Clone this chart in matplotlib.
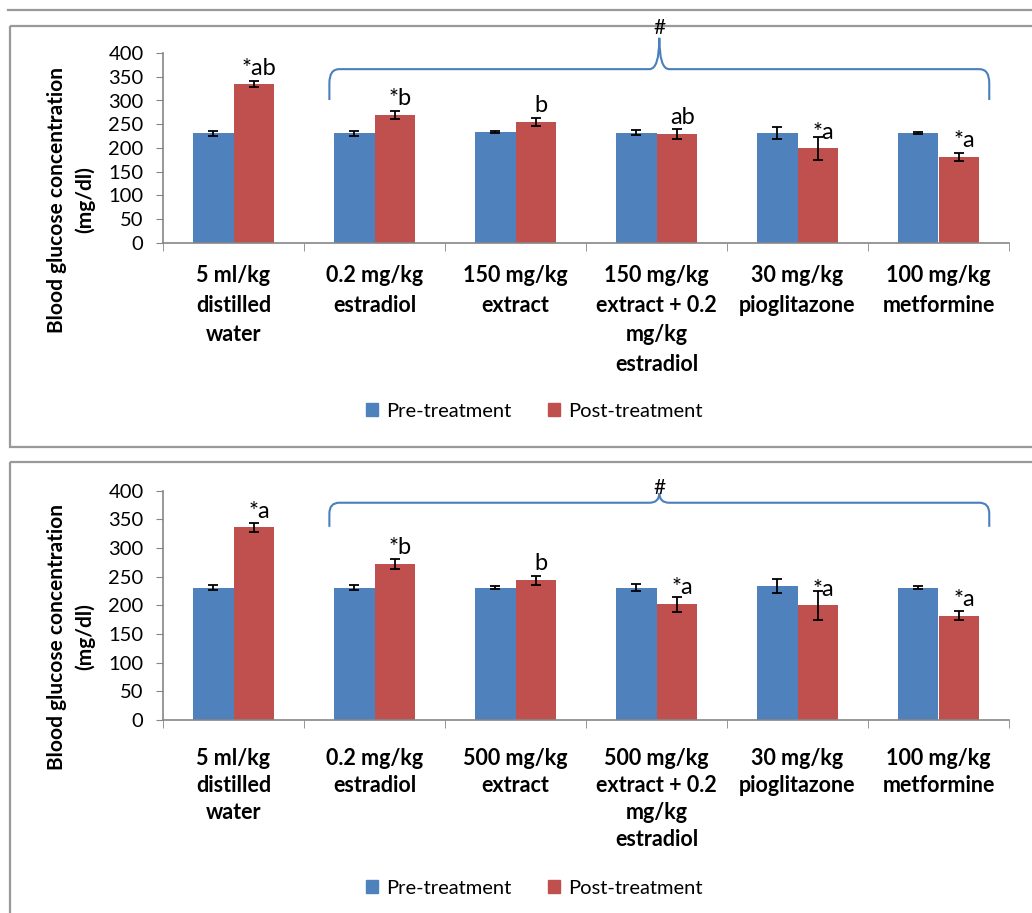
import matplotlib
matplotlib.use('Agg')
import matplotlib.pyplot as plt
import numpy as np
from matplotlib.path import Path
from matplotlib.patches import PathPatch, Rectangle

plt.rcParams['font.family'] = ['Lato', 'DejaVu Sans']

# ---- data ----
cats_top = ['5 ml/kg\ndistilled\nwater', '0.2 mg/kg\nestradiol', '150 mg/kg\nextract',
            '150 mg/kg\nextract + 0.2\nmg/kg\nestradiol', '30 mg/kg\npioglitazone',
            '100 mg/kg\nmetformine']
cats_bottom = ['5 ml/kg\ndistilled\nwater', '0.2 mg/kg\nestradiol', '500 mg/kg\nextract',
               '500 mg/kg\nextract + 0.2\nmg/kg\nestradiol', '30 mg/kg\npioglitazone',
               '100 mg/kg\nmetformine']

pre_top = [231, 231, 233, 232, 232, 232]
pre_top_err = [5, 5, 2, 5, 13, 2]
post_top = [334, 270, 255, 230, 199, 181]
post_top_err = [6, 8, 8, 11, 24, 9]
labels_top = ['*ab', '*b', 'b', 'ab', '*a', '*a']

pre_bottom = [231, 231, 231, 231, 234, 231]
pre_bottom_err = [5, 5, 3, 6, 12, 2]
post_bottom = [336, 272, 244, 202, 200, 182]
post_bottom_err = [8, 9, 8, 13, 25, 8]
labels_bottom = ['*a', '*b', 'b', '*a', '*a', '*a']

series_names = ['Pre-treatment', 'Post-treatment']
blue = '#4F81BD'
red = '#C0504D'
grey = '#868686'

W, H = 1032, 913
fig = plt.figure(figsize=(W / 100, H / 100), dpi=100)

# background overlay in pixel coordinates for panel frames
bg = fig.add_axes([0, 0, 1, 1], zorder=-1)
bg.set_xlim(0, W)
bg.set_ylim(H, 0)
bg.axis('off')
bg.plot([8, W], [10, 10], color='#999999', lw=1.6)
bg.add_patch(Rectangle((10, 26), W + 20, 421, fill=False, ec='#999999', lw=1.6))
bg.add_patch(Rectangle((10, 462), W + 20, 480, fill=False, ec='#999999', lw=1.6))


def brace(ax, x0, x1, xc, y_end, y_h, y_peak, rx=0.07):
    ry = (y_h - y_end) * 0.45
    verts = [(x0, y_end), (x0, y_h - ry), (x0, y_h), (x0 + rx, y_h),
             (xc - rx, y_h), (xc, y_h), (xc, y_peak),
             (xc, y_h), (xc + rx, y_h),
             (x1 - rx, y_h), (x1, y_h), (x1, y_h - ry), (x1, y_end)]
    codes = [Path.MOVETO, Path.LINETO, Path.CURVE3, Path.CURVE3,
             Path.LINETO, Path.CURVE3, Path.CURVE3,
             Path.CURVE3, Path.CURVE3,
             Path.LINETO, Path.CURVE3, Path.CURVE3, Path.LINETO]
    ax.add_patch(PathPatch(Path(verts, codes), fill=False, ec='#4a7fbf', lw=1.5,
                           clip_on=False))


def draw_panel(rect, cats, pre, pre_err, post, post_err, labels, brace_y, ylab_y, leg_y,
               xpad, xls):
    ax = fig.add_axes(rect)
    x = np.arange(len(cats))
    w = 0.284
    ekw = dict(ecolor='black', elinewidth=1.3, capthick=1.3)
    ax.bar(x - w / 2, pre, w, color=blue, yerr=pre_err, capsize=3.5, error_kw=ekw,
           label=series_names[0])
    ax.bar(x + w / 2, post, w, color=red, yerr=post_err, capsize=3.5, error_kw=ekw,
           label=series_names[1])
    for xi, v, lab in zip(x, post, labels):
        ax.annotate(lab, (xi + w / 2 + 0.04, v), xytext=(0, 7), textcoords='offset points',
                    ha='center', va='baseline', fontsize=17)
    ax.set_xlim(-0.5, len(cats) - 0.5)
    ax.set_ylim(0, 400)
    ax.set_yticks(np.arange(0, 401, 50))
    ax.set_xticks(x)
    ax.set_xticklabels(cats, fontsize=15.5, fontweight='bold', linespacing=xls)
    ax.set_xticks(np.arange(-0.5, len(cats), 1), minor=True)
    ax.tick_params(axis='x', which='major', length=0, pad=xpad)
    ax.tick_params(axis='x', which='minor', length=6, color=grey, direction='out')
    ax.tick_params(axis='y', length=5, color=grey, labelsize=14.5, pad=9)
    for s in ['top', 'right']:
        ax.spines[s].set_visible(False)
    for s in ['left', 'bottom']:
        ax.spines[s].set_color(grey)
        ax.spines[s].set_linewidth(1.2)

    y_end, y_h, y_peak, y_hash = brace_y
    brace(ax, 0.68, 5.36, 3.02, y_end, y_h, y_peak)
    ax.text(3.02, y_hash, '#', ha='center', va='center', fontsize=15, clip_on=False)

    fig.text(71 / W, 1 - ylab_y / H, 'Blood glucose concentration\n(mg/dl)', rotation=90,
             ha='center', va='center', fontsize=15, fontweight='bold',
             multialignment='center', linespacing=1.45)

    handles = [Rectangle((0, 0), 1, 1, color=blue), Rectangle((0, 0), 1, 1, color=red)]
    fig.legend(handles, series_names, loc='center', bbox_to_anchor=(534 / W, 1 - leg_y / H),
               ncol=2, frameon=False, fontsize=14.5, handlelength=0.6, handleheight=0.6,
               handletextpad=0.4, columnspacing=1.8)
    return ax


draw_panel([163 / W, 1 - 243 / H, 846 / W, 190 / H], cats_top, pre_top, pre_top_err,
           post_top, post_top_err, labels_top, (301, 366, 432, 453), 200, 411, 16, 1.5)
draw_panel([163 / W, 1 - 720 / H, 846 / W, 229.3 / H], cats_bottom, pre_bottom, pre_bottom_err,
           post_bottom, post_bottom_err, labels_bottom, (337, 379, 396, 405), 637, 888, 20, 1.35)

fig.savefig('out.png', dpi=100, facecolor='white')
